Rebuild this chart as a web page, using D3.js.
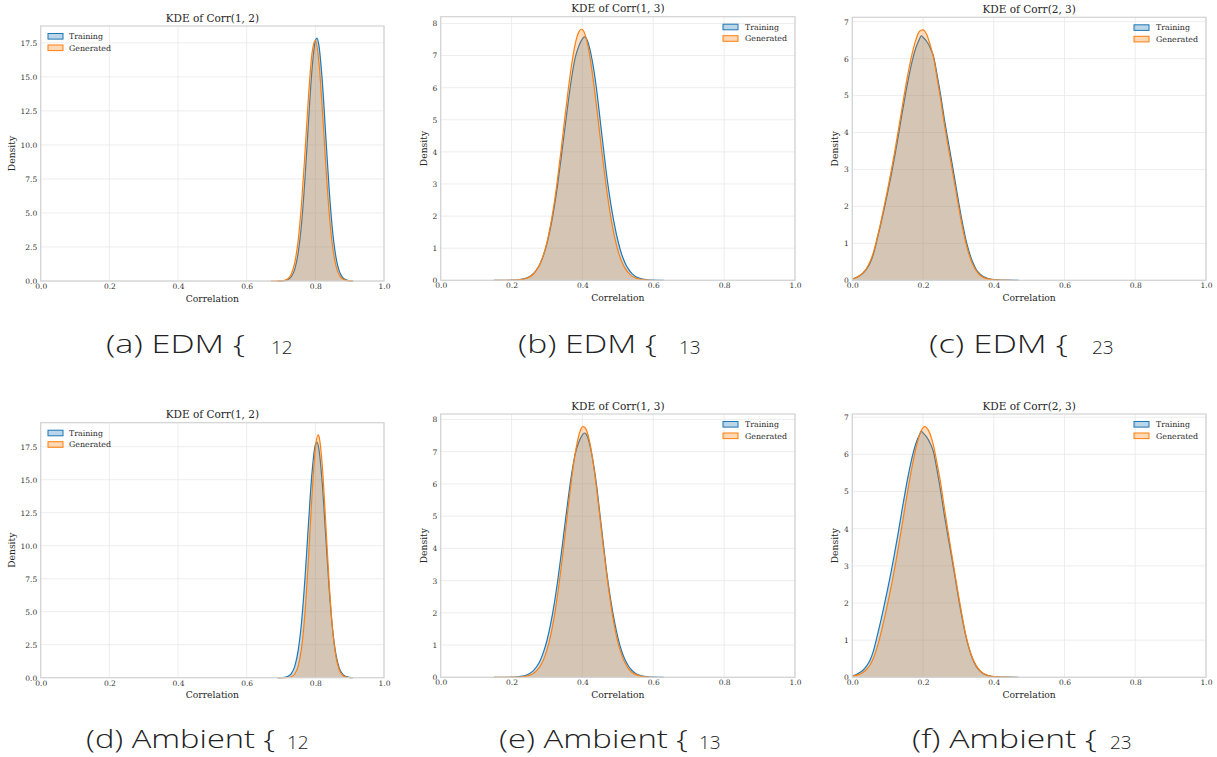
<!DOCTYPE html>
<html><head><meta charset="utf-8">
<script src="https://cdn.jsdelivr.net/npm/d3@7"></script>
<style>body{margin:0;background:#fff} svg{display:block}</style>
</head><body>
<svg id="c" width="1217" height="757"></svg>
<script>
// ---------- data ----------
const xTicks = [0, 0.2, 0.4, 0.6, 0.8, 1.0];
const yTicks12 = [0, 2.5, 5, 7.5, 10, 12.5, 15, 17.5];
const yTicks13 = [0, 1, 2, 3, 4, 5, 6, 7, 8];
const yTicks23 = [0, 1, 2, 3, 4, 5, 6, 7];
const titles = ["KDE of Corr(1, 2)", "KDE of Corr(1, 3)", "KDE of Corr(2, 3)"];
const captionMain = ["(a) EDM {", "(b) EDM {", "(c) EDM {", "(d) Ambient {", "(e) Ambient {", "(f) Ambient {"];
const captionSub = ["12", "13", "23", "12", "13", "23"];
const seriesNames = ["Training", "Generated"];
const xLabel = "Correlation";
const yLabel = "Density";

// Training KDE (same in both rows)
const train12 = [[0.69,0.00],[0.70,0.01],[0.71,0.03],[0.72,0.10],[0.73,0.31],[0.74,0.86],[0.75,2.07],[0.76,4.26],[0.77,7.59],[0.78,11.66],[0.79,15.44],[0.80,17.64],[0.805,17.85],[0.81,17.38],[0.82,14.78],[0.83,10.83],[0.84,6.84],[0.85,3.73],[0.86,1.76],[0.87,0.71],[0.88,0.25],[0.89,0.08],[0.90,0.02],[0.91,0.0]];
const train13 = [[0.15,0.0],[0.17,0.001],[0.19,0.002],[0.20,0.004],[0.21,0.009],[0.22,0.018],[0.23,0.034],[0.24,0.062],[0.25,0.11],[0.26,0.19],[0.27,0.32],[0.28,0.50],[0.29,0.78],[0.30,1.15],[0.31,1.64],[0.32,2.25],[0.33,2.98],[0.34,3.81],[0.35,4.69],[0.36,5.56],[0.37,6.34],[0.38,6.95],[0.39,7.30],[0.40,7.52],[0.405,7.58],[0.41,7.55],[0.42,7.25],[0.43,6.70],[0.44,5.95],[0.45,5.00],[0.46,4.05],[0.47,3.14],[0.48,2.39],[0.49,1.76],[0.50,1.24],[0.51,0.84],[0.52,0.55],[0.53,0.35],[0.54,0.21],[0.55,0.12],[0.56,0.07],[0.57,0.04],[0.58,0.02],[0.59,0.01],[0.60,0.005],[0.62,0.001],[0.63,0.0]];
const train23 = [[0.00,0.04],[0.01,0.07],[0.02,0.12],[0.03,0.19],[0.04,0.30],[0.05,0.46],[0.06,0.72],[0.07,1.10],[0.08,1.50],[0.09,1.93],[0.10,2.38],[0.11,2.85],[0.12,3.36],[0.13,3.90],[0.14,4.47],[0.15,5.02],[0.16,5.52],[0.17,5.96],[0.18,6.30],[0.19,6.53],[0.195,6.62],[0.20,6.58],[0.21,6.47],[0.22,6.30],[0.23,6.05],[0.24,5.55],[0.25,5.00],[0.26,4.38],[0.27,3.82],[0.28,3.28],[0.29,2.72],[0.30,2.15],[0.31,1.62],[0.32,1.15],[0.33,0.78],[0.34,0.50],[0.35,0.30],[0.36,0.18],[0.37,0.10],[0.38,0.06],[0.39,0.035],[0.40,0.02],[0.42,0.008],[0.44,0.003],[0.47,0.0]];

// Generated KDE, EDM row
const edmGen12 = [[0.67,0.00],[0.68,0.001],[0.69,0.003],[0.70,0.013],[0.71,0.05],[0.72,0.17],[0.73,0.52],[0.74,1.35],[0.75,2.99],[0.76,5.75],[0.77,9.50],[0.78,13.55],[0.79,16.67],[0.80,17.69],[0.81,16.18],[0.82,12.78],[0.83,8.70],[0.84,5.11],[0.85,2.59],[0.86,1.13],[0.87,0.42],[0.88,0.14],[0.89,0.04],[0.90,0.01],[0.91,0.0]];
const edmGen13 = [[0.15,0.0],[0.17,0.0],[0.19,0.0015],[0.20,0.003],[0.21,0.007],[0.22,0.015],[0.23,0.03],[0.24,0.056],[0.25,0.10],[0.26,0.18],[0.27,0.31],[0.28,0.51],[0.29,0.79],[0.30,1.19],[0.31,1.72],[0.32,2.38],[0.33,3.18],[0.34,4.08],[0.35,5.03],[0.36,5.94],[0.37,6.75],[0.38,7.38],[0.39,7.74],[0.397,7.82],[0.40,7.81],[0.41,7.56],[0.42,7.04],[0.43,6.29],[0.44,5.40],[0.45,4.46],[0.46,3.54],[0.47,2.69],[0.48,1.97],[0.49,1.38],[0.50,0.94],[0.51,0.61],[0.52,0.38],[0.53,0.23],[0.54,0.13],[0.55,0.07],[0.56,0.04],[0.57,0.02],[0.58,0.01],[0.60,0.0]];
const edmGen23 = [[0.00,0.04],[0.01,0.07],[0.02,0.12],[0.03,0.20],[0.04,0.32],[0.05,0.50],[0.06,0.77],[0.07,1.14],[0.08,1.55],[0.09,2.00],[0.10,2.47],[0.11,2.96],[0.12,3.49],[0.13,4.05],[0.14,4.63],[0.15,5.20],[0.16,5.72],[0.17,6.17],[0.18,6.52],[0.19,6.74],[0.20,6.78],[0.21,6.66],[0.22,6.38],[0.23,6.02],[0.24,5.45],[0.25,4.88],[0.26,4.24],[0.27,3.67],[0.28,3.12],[0.29,2.58],[0.30,2.02],[0.31,1.50],[0.32,1.05],[0.33,0.70],[0.34,0.44],[0.35,0.26],[0.36,0.15],[0.37,0.08],[0.38,0.045],[0.39,0.025],[0.40,0.012],[0.42,0.004],[0.45,0.0]];

// Generated KDE, Ambient row
const ambGen12 = [[0.69,0.0],[0.70,0.001],[0.71,0.003],[0.72,0.017],[0.73,0.075],[0.74,0.28],[0.75,0.88],[0.76,2.28],[0.77,4.98],[0.78,9.05],[0.79,13.72],[0.80,17.37],[0.808,18.40],[0.81,18.33],[0.82,16.15],[0.83,11.87],[0.84,7.28],[0.85,3.73],[0.86,1.59],[0.87,0.57],[0.88,0.17],[0.89,0.04],[0.90,0.01],[0.905,0.0]];
const ambGen13 = [[0.15,0.0],[0.18,0.0],[0.19,0.0006],[0.20,0.0015],[0.21,0.003],[0.22,0.007],[0.23,0.015],[0.24,0.03],[0.25,0.06],[0.26,0.11],[0.27,0.20],[0.28,0.33],[0.29,0.54],[0.30,0.86],[0.31,1.28],[0.32,1.85],[0.33,2.57],[0.34,3.40],[0.35,4.33],[0.36,5.29],[0.37,6.20],[0.38,6.97],[0.39,7.51],[0.40,7.77],[0.403,7.78],[0.41,7.70],[0.42,7.33],[0.43,6.68],[0.44,5.85],[0.45,4.91],[0.46,3.95],[0.47,3.06],[0.48,2.27],[0.49,1.60],[0.50,1.09],[0.51,0.72],[0.52,0.45],[0.53,0.27],[0.54,0.15],[0.55,0.09],[0.56,0.05],[0.57,0.025],[0.58,0.01],[0.60,0.0]];
const ambGen23 = [[0.00,0.03],[0.01,0.05],[0.02,0.08],[0.03,0.13],[0.04,0.21],[0.05,0.33],[0.06,0.52],[0.07,0.80],[0.08,1.15],[0.09,1.55],[0.10,1.98],[0.11,2.44],[0.12,2.94],[0.13,3.48],[0.14,4.05],[0.15,4.64],[0.16,5.20],[0.17,5.72],[0.18,6.17],[0.19,6.52],[0.20,6.72],[0.205,6.75],[0.21,6.72],[0.22,6.55],[0.23,6.22],[0.24,5.74],[0.25,5.22],[0.26,4.58],[0.27,3.97],[0.28,3.38],[0.29,2.80],[0.30,2.22],[0.31,1.68],[0.32,1.18],[0.33,0.80],[0.34,0.52],[0.35,0.32],[0.36,0.19],[0.37,0.11],[0.38,0.06],[0.39,0.035],[0.40,0.02],[0.42,0.007],[0.44,0.002],[0.46,0.0]];

// ---------- drawing ----------
const svg = d3.select("#c");
const serif = "'DejaVu Serif', serif";
const sans = "'Open Sans', 'Noto Sans', sans-serif";
const colors = ["#1f77b4", "#ff7f0e"];
const fmt1 = d3.format(".1f"), fmt0 = d3.format("d");

const panels = [
  {l:40.7, r:384,  t:26,   b:281,   train:train12, gen:edmGen12, yt:yTicks12, fmt:fmt1, title:titles[0], leg:"left"},
  {l:440.7,r:795,  t:16.7, b:280.3, train:train13, gen:edmGen13, yt:yTicks13, fmt:fmt0, title:titles[1], leg:"right"},
  {l:852.3,r:1206, t:17.3, b:280.3, train:train23, gen:edmGen23, yt:yTicks23, fmt:fmt0, title:titles[2], leg:"right"},
  {l:40.7, r:384,  t:422.7,b:677.7, train:train12, gen:ambGen12, yt:yTicks12, fmt:fmt1, title:titles[0], leg:"left"},
  {l:440.7,r:795,  t:414,  b:677.3, train:train13, gen:ambGen13, yt:yTicks13, fmt:fmt0, title:titles[1], leg:"right"},
  {l:852.3,r:1206, t:414,  b:677.3, train:train23, gen:ambGen23, yt:yTicks23, fmt:fmt0, title:titles[2], leg:"right"}
];

panels.forEach((p, i) => {
  const x = d3.scaleLinear().domain([0, 1]).range([p.l, p.r]);
  const ymax = 1.05 * d3.max(p.train.concat(p.gen), d => d[1]);
  const y = d3.scaleLinear().domain([0, ymax]).range([p.b, p.t]);
  const g = svg.append("g");

  // grid
  g.selectAll("line.gy").data(p.yt).join("line").attr("class","gy")
    .attr("x1", p.l).attr("x2", p.r).attr("y1", d => y(d)).attr("y2", d => y(d))
    .attr("stroke", "#ebebeb").attr("stroke-width", 0.9);
  g.selectAll("line.gx").data(xTicks).join("line").attr("class","gx")
    .attr("x1", d => x(d)).attr("x2", d => x(d)).attr("y1", p.t).attr("y2", p.b)
    .attr("stroke", "#ebebeb").attr("stroke-width", 0.9);

  // KDE areas + lines
  [p.train, p.gen].forEach((data, k) => {
    const area = d3.area().x(d => x(d[0])).y0(y(0)).y1(d => y(d[1])).curve(d3.curveMonotoneX);
    const line = d3.line().x(d => x(d[0])).y(d => y(d[1])).curve(d3.curveMonotoneX);
    g.append("path").attr("d", area(data)).attr("fill", colors[k]).attr("fill-opacity", 0.25);
    g.append("path").attr("d", line(data)).attr("fill", "none").attr("stroke", colors[k]).attr("stroke-width", 1.2);
  });

  // frame
  g.append("rect").attr("x", p.l).attr("y", p.t).attr("width", p.r - p.l).attr("height", p.b - p.t)
    .attr("fill", "none").attr("stroke", "#d2d2d2").attr("stroke-width", 1.2);

  // axes
  const ax = g.append("g").attr("transform", `translate(0,${p.b})`)
    .call(d3.axisBottom(x).tickValues(xTicks).tickSize(0).tickPadding(2.8).tickFormat(fmt1));
  const ay = g.append("g").attr("transform", `translate(${p.l},0)`)
    .call(d3.axisLeft(y).tickValues(p.yt).tickSize(0).tickPadding(3.5).tickFormat(p.fmt));
  [ax, ay].forEach(a => {
    a.select(".domain").remove();
    a.selectAll("text").attr("font-family", serif).attr("font-size", 7.5).attr("fill", "#333");
  });
  let maxW = 0;
  ay.selectAll("text").each(function(){ maxW = Math.max(maxW, this.getBBox().width); });

  // labels
  g.append("text").attr("x", (p.l + p.r) / 2).attr("y", p.b + 20.5).attr("text-anchor", "middle")
    .attr("font-family", serif).attr("font-size", 9.2).attr("fill", "#262626").text(xLabel);
  const cx = p.l - 3.5 - maxW - 8.4, cy = (p.t + p.b) / 2;
  g.append("text").attr("transform", `translate(${cx},${cy}) rotate(-90)`).attr("dy", "0.32em")
    .attr("text-anchor", "middle").attr("font-family", serif).attr("font-size", 9.2).attr("fill", "#262626").text(yLabel);
  g.append("text").attr("x", (p.l + p.r) / 2).attr("y", p.t - 4.5).attr("text-anchor", "middle")
    .attr("font-family", serif).attr("font-size", 10.5).attr("fill", "#262626").text(p.title);

  // legend
  const px = p.leg === "left" ? p.l + 7.3 : p.r - 72;
  const tx = p.leg === "left" ? p.l + 28.3 : p.r - 50;
  seriesNames.forEach((name, k) => {
    const cyy = p.t + 10.3 + k * 11.5;
    g.append("rect").attr("x", px).attr("y", cyy - 2.8).attr("width", 15).attr("height", 5.6)
      .attr("fill", colors[k]).attr("fill-opacity", 0.3).attr("stroke", colors[k]).attr("stroke-width", 1);
    g.append("text").attr("x", tx).attr("y", cyy + 2.8).attr("font-family", serif).attr("font-size", 7.9)
      .attr("fill", "#262626").text(name);
  });
});

// captions
const capLayout = [
  {x:106, w:139, sx:271, y:352.5},
  {x:518, w:139, sx:679, y:352.5},
  {x:929, w:139, sx:1092, y:352.5},
  {x:86,  w:189, sx:287, y:747.5},
  {x:499, w:189, sx:699, y:747.5},
  {x:912, w:185, sx:1110, y:747.5}
];
captionMain.forEach((c, i) => {
  const L = capLayout[i];
  svg.append("text").attr("x", L.x).attr("y", L.y).attr("font-family", sans).attr("font-size", 25.5)
    .attr("font-weight", 300)
    .attr("fill", "#222").attr("textLength", L.w).attr("lengthAdjust", "spacingAndGlyphs").text(c);
  svg.append("text").attr("x", L.sx).attr("y", L.y + 1.5).attr("font-family", sans).attr("font-size", 19)
    .attr("font-weight", 300).attr("fill", "#222").text(captionSub[i]);
});
</script>
</body></html>
